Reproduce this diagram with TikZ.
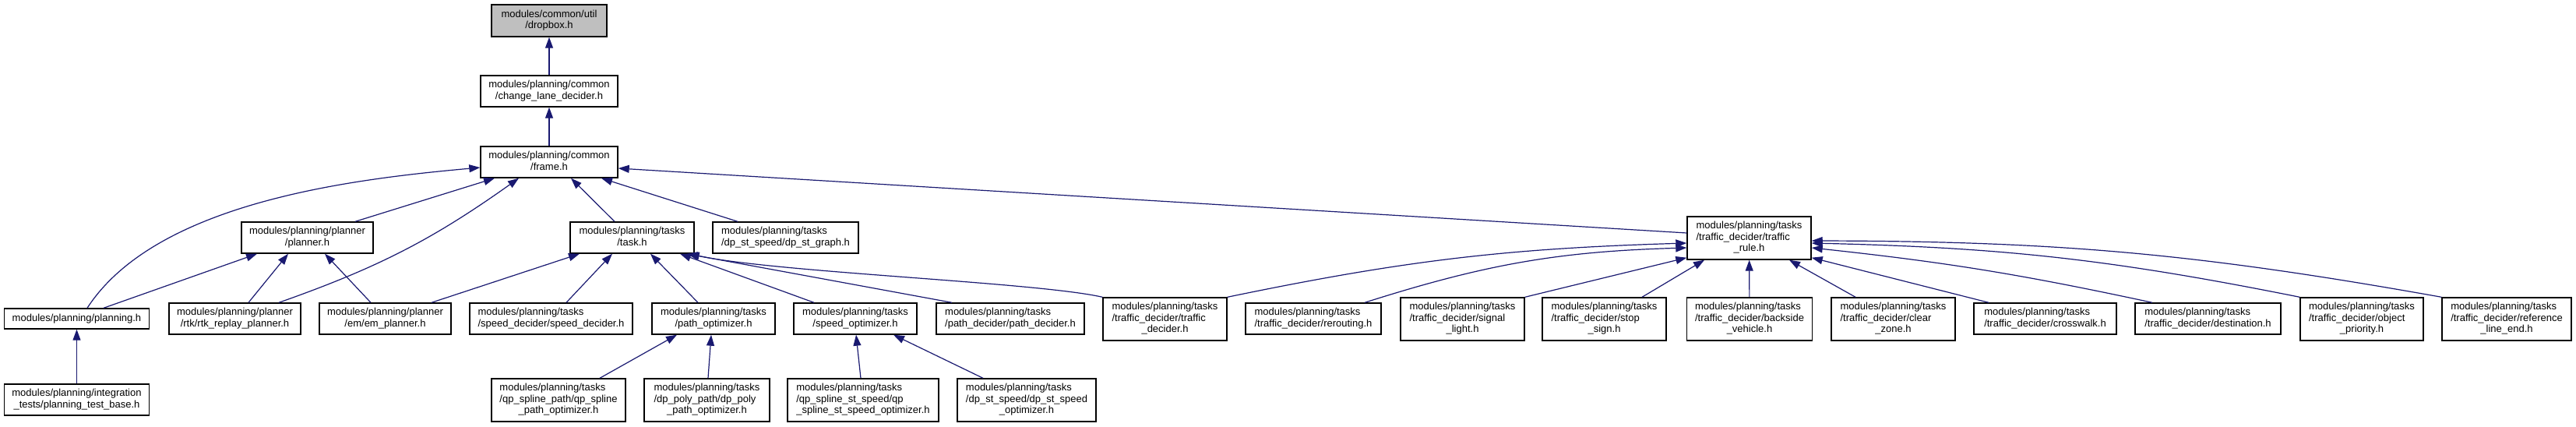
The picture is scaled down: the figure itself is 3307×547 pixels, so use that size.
\documentclass[tikz,border=0pt]{standalone}
\usepackage{fontspec}
\setmainfont{Liberation Sans}
\usepackage{xcolor}
\usetikzlibrary{arrows.meta}

\definecolor{edgeblue}{RGB}{25,25,112}
\definecolor{curfile}{gray}{0.75}
% left lines, last line centred (as doxygen does)
\newcommand{\flbl}[2]{\begin{tabular}{@{}l@{}}#1\\\multicolumn{1}{@{}c@{}}{#2}\end{tabular}}

\begin{document}
\begin{tikzpicture}[
        x=0.5pt, y=-0.5pt,
        box/.style={draw, line width=0.7pt, fill=white, align=center, inner xsep=3pt, inner ysep=1pt,
          minimum height=20pt, font=\fontsize{6.5}{7.25}\selectfont},
        tall/.style={box, minimum height=27.5pt},
        arr/.style={-{Triangle[length=7pt, width=5pt]}, draw=edgeblue, line width=0.6pt}
      ]
      \useasboundingbox (0,0) rectangle (3307,547);
      % top chain
      \node[box, fill=curfile, minimum width=74pt, minimum height=20.5pt] (dropbox) at (705,26.5) {\flbl{modules/common/util}{/dropbox.h}};
      \node[box, minimum width=88pt] (lanedecider) at (705,117) {\flbl{modules/planning/common}{/change\_lane\_decider.h}};
      \node[box, minimum width=88pt] (frame) at (705,208) {\flbl{modules/planning/common}{/frame.h}};
      % second row
      \node[box, minimum width=84.5pt] (planner) at (394.5,305) {\flbl{modules/planning/planner}{/planner.h}};
      \node[box, minimum width=79.5pt] (task) at (811.5,305) {\flbl{modules/planning/tasks}{/task.h}};
      \node[box, minimum width=93.5pt] (dpstgraph) at (1008.5,305) {\flbl{modules/planning/tasks}{/dp\_st\_speed/dp\_st\_graph.h}};
      \node[tall, minimum width=79.5pt] (trafficrule) at (2245.5,305.5) {\flbl{modules/planning/tasks\\/traffic\_decider/traffic}{\_rule.h}};
      % third row
      \node[box, minimum width=93pt, minimum height=13pt] (planning) at (98.5,409) {modules/planning/planning.h};
      \node[box, minimum width=84.5pt] (rtk) at (301.5,409) {\flbl{modules/planning/planner}{/rtk/rtk\_replay\_planner.h}};
      \node[box, minimum width=84.5pt] (em) at (494.5,409) {\flbl{modules/planning/planner}{/em/em\_planner.h}};
      \node[box, minimum width=104.5pt] (speeddecider) at (707.5,409) {\flbl{modules/planning/tasks}{/speed\_decider/speed\_decider.h}};
      \node[box, minimum width=79pt] (pathopt) at (916,409) {\flbl{modules/planning/tasks}{/path\_optimizer.h}};
      \node[box, minimum width=79pt] (speedopt) at (1098,409) {\flbl{modules/planning/tasks}{/speed\_optimizer.h}};
      \node[box, minimum width=95pt] (pathdecider) at (1297,409) {\flbl{modules/planning/tasks}{/path\_decider/path\_decider.h}};
      \node[tall, minimum width=79.5pt] (tdtraffic) at (1495.5,409.5) {\flbl{modules/planning/tasks\\/traffic\_decider/traffic}{\_decider.h}};
      \node[box, minimum width=87pt] (rerouting) at (1686,409) {\flbl{modules/planning/tasks}{/traffic\_decider/rerouting.h}};
      \node[tall, minimum width=79.5pt] (signal) at (1877.5,409.5) {\flbl{modules/planning/tasks\\/traffic\_decider/signal}{\_light.h}};
      \node[tall, minimum width=79.5pt] (stopsign) at (2059.5,409.5) {\flbl{modules/planning/tasks\\/traffic\_decider/stop}{\_sign.h}};
      \node[tall, minimum width=80.5pt] (backside) at (2246,409.5) {\flbl{modules/planning/tasks\\/traffic\_decider/backside}{\_vehicle.h}};
      \node[tall, minimum width=79.5pt] (clearzone) at (2430.5,409.5) {\flbl{modules/planning/tasks\\/traffic\_decider/clear}{\_zone.h}};
      \node[box, minimum width=91.5pt] (crosswalk) at (2625.5,409) {\flbl{modules/planning/tasks}{/traffic\_decider/crosswalk.h}};
      \node[box, minimum width=93.5pt] (destination) at (2834.5,409) {\flbl{modules/planning/tasks}{/traffic\_decider/destination.h}};
      \node[tall, minimum width=79pt] (objprio) at (3032,409.5) {\flbl{modules/planning/tasks\\/traffic\_decider/object}{\_priority.h}};
      \node[tall, minimum width=83pt] (refline) at (3218,409.5) {\flbl{modules/planning/tasks\\/traffic\_decider/reference}{\_line\_end.h}};
      % bottom row
      \node[box, minimum width=93pt] (testbase) at (98.5,513) {\flbl{modules/planning/integration}{\_tests/planning\_test\_base.h}};
      \node[tall, minimum width=86pt] (qpsplinepath) at (717,513.5) {\flbl{modules/planning/tasks\\/qp\_spline\_path/qp\_spline}{\_path\_optimizer.h}};
      \node[tall, minimum width=80.5pt] (dppoly) at (907.5,513.5) {\flbl{modules/planning/tasks\\/dp\_poly\_path/dp\_poly}{\_path\_optimizer.h}};
      \node[tall, minimum width=97pt] (qpsplinest) at (1108,513.5) {\flbl{modules/planning/tasks\\/qp\_spline\_st\_speed/qp}{\_spline\_st\_speed\_optimizer.h}};
      \node[tall, minimum width=89pt] (dpstspeedopt) at (1318,513.5) {\flbl{modules/planning/tasks\\/dp\_st\_speed/dp\_st\_speed}{\_optimizer.h}};
      % includes
      \draw[arr] (lanedecider) -- (dropbox);
      \draw[arr] (frame) -- (lanedecider);
      \draw[arr] ([xshift=30.75pt]planner.north) -- ([xshift=-35pt]frame.south);
      \draw[arr] ([xshift=28.25pt]rtk.north) to[bend right=8] ([xshift=-19.5pt]frame.south);
      \draw[arr] ([xshift=-11.25pt]task.north) -- ([xshift=14pt]frame.south);
      \draw[arr] ([xshift=-30.75pt]dpstgraph.north) -- ([xshift=33.5pt]frame.south);
      \draw[arr] ([yshift=3.25pt]trafficrule.west) -- ([yshift=-4pt]frame.east);
      \draw[arr] ([xshift=6.75pt]planning.north) .. controls (200,260) and (450,230) .. ([yshift=-3.5pt]frame.west);
      \draw[arr] ([xshift=17.25pt]planning.north) -- ([xshift=-32.25pt]planner.south);
      \draw[arr] ([xshift=8.75pt]rtk.north) -- ([xshift=-12.25pt]planner.south);
      \draw[arr] ([xshift=-9.25pt]em.north) -- ([xshift=11.25pt]planner.south);
      \draw[arr] ([xshift=29.75pt]em.north) -- ([xshift=-33.75pt]task.south);
      \draw[arr] ([xshift=9.75pt]speeddecider.north) -- ([xshift=-12.75pt]task.south);
      \draw[arr] ([xshift=-10pt]pathopt.north) -- ([xshift=11.75pt]task.south);
      \draw[arr] ([xshift=-26.5pt]speedopt.north) -- ([xshift=30.75pt]task.south);
      \draw[arr] ([xshift=-37.5pt]pathdecider.north) -- ([xshift=-5pt]task.south east);
      \draw[arr] (tdtraffic.north west) .. controls (1330,362) and (1000,350) .. ([xshift=-4pt]task.south east);
      \draw[arr] ([xshift=26.5pt]qpsplinepath.north) -- ([xshift=-23.5pt]pathopt.south);
      \draw[arr] ([xshift=0.75pt]dppoly.north) -- ([xshift=-1.5pt]pathopt.south);
      \draw[arr] ([xshift=-1.5pt]qpsplinest.north) -- ([xshift=0.5pt]speedopt.south);
      \draw[arr] ([xshift=-28pt]dpstspeedopt.north) -- ([xshift=24.5pt]speedopt.south);
      \draw[arr] (testbase) -- (planning);
      \draw[arr] (tdtraffic.north east) to[bend left=5] ([yshift=-3.25pt]trafficrule.west);
      \draw[arr] ([xshift=33pt]rerouting.north) to[bend left=8] ([yshift=-6.25pt]trafficrule.west);
      \draw[arr] (signal.north east) -- ([yshift=1.5pt]trafficrule.south west);
      \draw[arr] ([xshift=24.25pt]stopsign.north) -- ([xshift=-28.75pt]trafficrule.south);
      \draw[arr] (backside) -- (trafficrule);
      \draw[arr] ([xshift=-24.25pt]clearzone.north) -- ([xshift=25.75pt]trafficrule.south);
      \draw[arr] ([xshift=-36.25pt]crosswalk.north) -- ([yshift=1.5pt]trafficrule.south east);
      \draw[arr] ([xshift=-35.75pt]destination.north) to[bend right=3] ([yshift=-6.25pt]trafficrule.east);
      \draw[arr] (objprio.north west) to[bend right=5] ([yshift=-3.25pt]trafficrule.east);
      \draw[arr] (refline.north west) to[bend right=5] ([yshift=-1.75pt]trafficrule.east);
    \end{tikzpicture}
\end{document}
